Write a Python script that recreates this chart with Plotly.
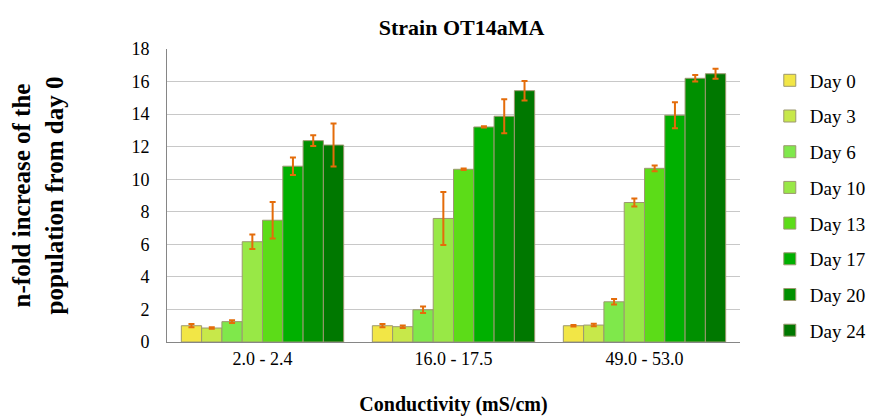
import plotly.graph_objects as go

# conductivity ranges (categories)
categories = ["2.0 - 2.4", "16.0 - 17.5", "49.0 - 53.0"]
days = ["Day 0", "Day 3", "Day 6", "Day 10", "Day 13", "Day 17", "Day 20", "Day 24"]

# n-fold increase per day, one list per category group
values = {
    "Day 0": [1.00, 1.00, 1.00],
    "Day 3": [0.86, 0.94, 1.04],
    "Day 6": [1.25, 1.98, 2.47],
    "Day 10": [6.16, 7.59, 8.57],
    "Day 13": [7.48, 10.61, 10.67],
    "Day 17": [10.80, 13.21, 13.93],
    "Day 20": [12.37, 13.87, 16.20],
    "Day 24": [12.10, 15.44, 16.48],
}
errors = {
    "Day 0": [0.10, 0.10, 0.05],
    "Day 3": [0.05, 0.08, 0.08],
    "Day 6": [0.08, 0.20, 0.17],
    "Day 10": [0.45, 1.63, 0.25],
    "Day 13": [1.12, 0.05, 0.18],
    "Day 17": [0.54, 0.04, 0.80],
    "Day 20": [0.33, 1.05, 0.20],
    "Day 24": [1.32, 0.60, 0.30],
}
colors = ["#F2E646", "#C7E84A", "#7FE84B", "#98E846", "#5CDC18",
          "#00B000", "#009000", "#007800"]

FONT = "Liberation Serif"

fig = go.Figure()
for i, d in enumerate(days):
    fig.add_trace(go.Bar(
        name=d,
        x=categories,
        y=values[d],
        legendgroup=d,
        marker=dict(color=colors[i], line=dict(color="#9C9870", width=1)),
        error_y=dict(type="data", array=errors[d], color="#E46C0A",
                     thickness=2, width=3),
    ))

# page body has an 8px margin, so the figure is a bit smaller than the window
fig.update_layout(
    width=869, height=408,
    paper_bgcolor="white", plot_bgcolor="white",
    font=dict(family=FONT, size=18, color="black"),
    title=dict(text="<b>Strain OT14aMA</b>", x=0.522, xanchor="center",
               y=0.953, yanchor="middle", font=dict(size=22)),
    margin=dict(l=159, r=137, t=41, b=74, autoexpand=False),
    barmode="group", bargap=0.15, bargroupgap=0,
    legend=dict(x=1.052, xanchor="left", y=0.466, yanchor="middle",
                tracegroupgap=8, font=dict(size=19), itemwidth=30,
                entrywidth=60),
    showlegend=True,
)
fig.update_xaxes(
    title=dict(text="<b>Conductivity (mS/cm)</b>", font=dict(size=20), standoff=30),
    showline=True, linecolor="#868686", linewidth=1,
    ticks="", showgrid=False, automargin=False,
)
fig.update_yaxes(
    title=dict(text="<b>n-fold increase of the<br>population from day 0</b>",
               font=dict(size=25), standoff=72),
    range=[0, 18], dtick=2,
    showgrid=True, gridcolor="#C8C8C8", gridwidth=1,
    showline=True, linecolor="#868686", linewidth=1,
    ticks="", ticklabelstandoff=13, zeroline=False, automargin=False,
)

fig.write_html("out.html")
